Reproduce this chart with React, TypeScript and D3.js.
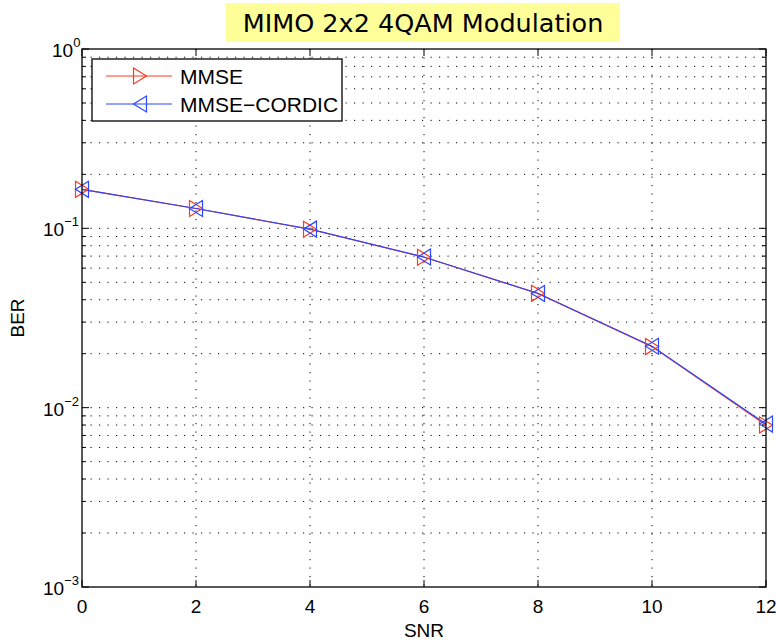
import React from "react";
import * as d3 from "d3";

const snr = [0, 2, 4, 6, 8, 10, 12];
const berMMSE = [0.165, 0.129, 0.0988, 0.0690, 0.0434, 0.0219, 0.0080];
const berCordic = [0.165, 0.129, 0.0990, 0.0692, 0.0433, 0.0220, 0.0081];
const xTicks = [0, 2, 4, 6, 8, 10, 12];
const yDecades = [0, -1, -2, -3];
const seriesNames = ["MMSE", "MMSE\u2212CORDIC"];
const titleText = "MIMO 2x2 4QAM Modulation";

const W = 776, H = 643;
const L = 82, R = 766, T = 49, B = 587;
const RED = "#ff3a1e";
const BLUE = "#2b46ff";
const FONT = "'Liberation Sans', Arial, Helvetica, sans-serif";

function tri(cx: number, cy: number, dir: "r" | "l") {
  const hw = 6.5, hh = 8;
  if (dir === "r") return `M${cx - hw},${cy - hh}L${cx + hw},${cy}L${cx - hw},${cy + hh}Z`;
  return `M${cx + hw},${cy - hh}L${cx - hw},${cy}L${cx + hw},${cy + hh}Z`;
}

export default function App() {
  const x = d3.scaleLinear().domain([0, 12]).range([L, R]);
  const y = d3.scaleLog().domain([1e-3, 1]).range([B, T]);
  const minor: number[] = [];
  for (let e = -3; e < 0; e++) for (let k = 2; k <= 9; k++) minor.push(k * Math.pow(10, e));
  const line = d3.line<number>().x((_, i) => x(snr[i])).y((d) => y(d));
  const dash = "1.2,7.3";
  return (
    <svg width={W} height={H} style={{ display: "block", position: "absolute", left: 0, top: 0, background: "#fff" }}>
      <rect x={0} y={0} width={W} height={H} fill="#fff" />
      {/* title */}
      <rect x={226} y={3} width={394} height={39} fill="#ffff99" />
      <text x={423} y={32} textAnchor="middle" fontFamily="'DejaVu Sans', sans-serif" fontSize={25.5} fill="#000">{titleText}</text>
      {/* grid */}
      <g stroke="#000" strokeWidth={1} strokeDasharray={dash}>
        {xTicks.slice(1, -1).map((t) => (
          <line key={"gx" + t} x1={x(t)} x2={x(t)} y1={T} y2={B} />
        ))}
        {yDecades.slice(1, -1).map((e) => (
          <line key={"gy" + e} x1={L} x2={R} y1={y(Math.pow(10, e))} y2={y(Math.pow(10, e))} />
        ))}
        {minor.map((v, i) => (
          <line key={"gm" + i} x1={L} x2={R} y1={y(v)} y2={y(v)} />
        ))}
      </g>
      {/* ticks */}
      <g stroke="#000" strokeWidth={1}>
        {xTicks.map((t) => (
          <g key={"tx" + t}>
            <line x1={x(t)} x2={x(t)} y1={B} y2={B - 7} />
            <line x1={x(t)} x2={x(t)} y1={T} y2={T + 7} />
          </g>
        ))}
        {yDecades.map((e) => (
          <g key={"ty" + e}>
            <line x1={L} x2={L + 7} y1={y(Math.pow(10, e))} y2={y(Math.pow(10, e))} />
            <line x1={R} x2={R - 7} y1={y(Math.pow(10, e))} y2={y(Math.pow(10, e))} />
          </g>
        ))}
        {minor.map((v, i) => (
          <g key={"tm" + i}>
            <line x1={L} x2={L + 4} y1={y(v)} y2={y(v)} />
            <line x1={R} x2={R - 4} y1={y(v)} y2={y(v)} />
          </g>
        ))}
      </g>
      {/* data */}
      <path d={line(berMMSE) || ""} fill="none" stroke={RED} strokeWidth={1.2} />
      <path d={line(berCordic) || ""} fill="none" stroke={BLUE} strokeWidth={1.2} />
      {berMMSE.map((v, i) => (
        <path key={"mr" + i} d={tri(x(snr[i]), y(v), "r")} fill="none" stroke={RED} strokeWidth={1.2} />
      ))}
      {berCordic.map((v, i) => (
        <path key={"mb" + i} d={tri(x(snr[i]), y(v), "l")} fill="none" stroke={BLUE} strokeWidth={1.2} />
      ))}
      {/* axes box */}
      <rect x={L} y={T} width={R - L} height={B - T} fill="none" stroke="#000" strokeWidth={1.3} />
      {/* x tick labels */}
      <g fontFamily={FONT} fontSize={19} fill="#000" textAnchor="middle">
        {xTicks.map((t) => (
          <text key={"lx" + t} x={x(t)} y={613}>{t}</text>
        ))}
      </g>
      {/* y tick labels */}
      <g fontFamily={FONT} fill="#000">
        {yDecades.map((e) => (
          <text key={"ly" + e} x={e === 0 ? 52 : 43} y={y(Math.pow(10, e)) + 8} fontSize={19}>
            10
            <tspan dy={-10} fontSize={13}>{e === 0 ? "0" : "\u2212" + Math.abs(e)}</tspan>
          </text>
        ))}
      </g>
      <text x={424} y={637} textAnchor="middle" fontFamily={FONT} fontSize={19}>SNR</text>
      <text transform={`translate(24,${(T + B) / 2}) rotate(-90)`} textAnchor="middle" fontFamily={FONT} fontSize={19}>BER</text>
      {/* legend */}
      <rect x={92} y={59} width={250} height={62} fill="#fff" stroke="#000" strokeWidth={1.3} />
      {seriesNames.map((name, i) => {
        const ly = 76 + i * 28;
        const col = i === 0 ? RED : BLUE;
        return (
          <g key={"lg" + i}>
            <line x1={106} x2={172} y1={ly} y2={ly} stroke={col} strokeWidth={1.2} />
            <path d={tri(140, ly, i === 0 ? "r" : "l")} fill="none" stroke={col} strokeWidth={1.2} />
            <text x={180} y={ly + 8} fontFamily={FONT} fontSize={21}>{name}</text>
          </g>
        );
      })}
    </svg>
  );
}
